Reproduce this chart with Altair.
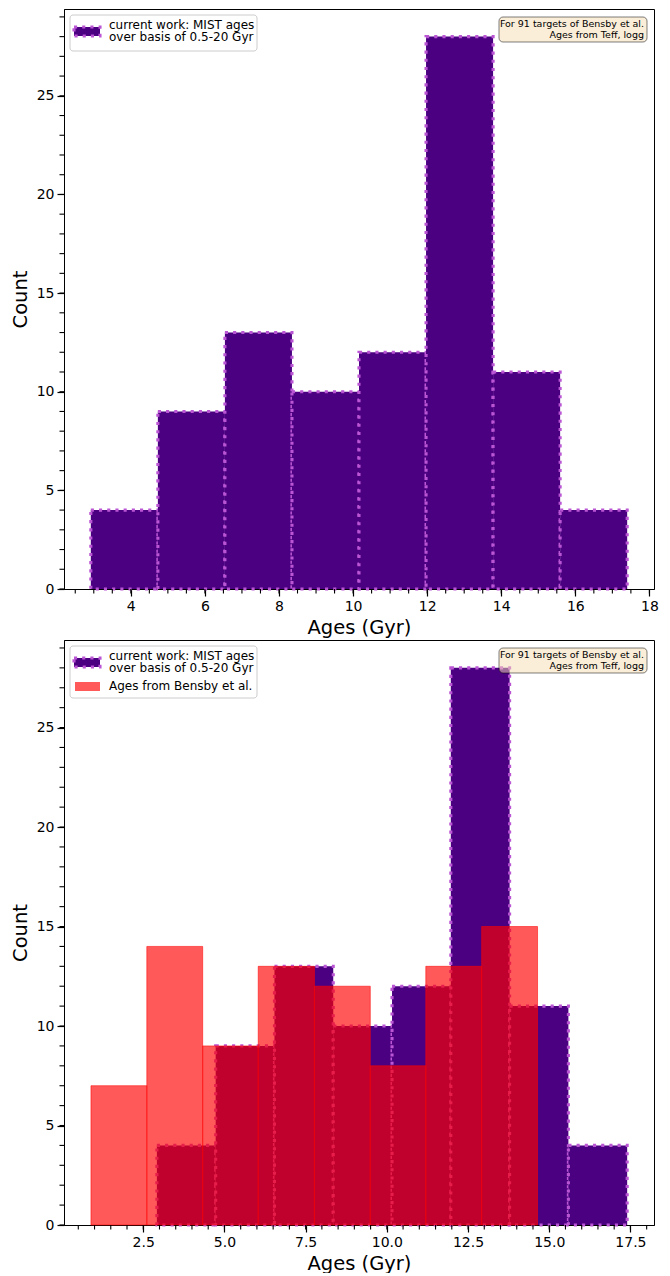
import altair as alt
import pandas as pd
import numpy as np

# ---------------- data ----------------
mist_edges = [2.92, 4.73, 6.54, 8.35, 10.16, 11.97, 13.78, 15.59, 17.40]
mist_counts = [4, 9, 13, 10, 12, 28, 11, 4]

bensby_edges = [0.89, 2.61, 4.33, 6.04, 7.77, 9.49, 11.20, 12.92, 14.64]
bensby_counts = [7, 14, 9, 13, 12, 8, 13, 15]

top_xticks = [4, 6, 8, 10, 12, 14, 16, 18]
bottom_xticks = [2.5, 5.0, 7.5, 10.0, 12.5, 15.0, 17.5]
yticks = [0, 5, 10, 15, 20, 25]

top_xdomain = [2.196, 18.124]
bottom_xdomain = [0.06, 18.226]
ydomain = [0, 29.4]

legend_mist = ["current work: MIST ages", "over basis of 0.5-20 Gyr"]
legend_bensby = ["Ages from Bensby et al."]
note_lines = ["For 91 targets of Bensby et al.", "Ages from Teff, logg"]

x_title = "Ages (Gyr)"
y_title = "Count"

# ---------------- styling ----------------
INDIGO = "#4B0082"
ORCHID = "#BA55D3"
FONT = "DejaVu Sans"
W = 590
H_TOP = 580
H_BOT = 585


def hist_df(edges, counts):
    return pd.DataFrame({
        "lo": edges[:-1],
        "hi": edges[1:],
        "count": counts,
        "base": [0] * len(counts),
    })


mist_df = hist_df(mist_edges, mist_counts)
bensby_df = hist_df(bensby_edges, bensby_counts)
one = pd.DataFrame({"k": [0]})


def text_line(txt, x, y, size, align="left"):
    return alt.Chart(one).mark_text(
        text=txt, font=FONT, fontSize=size, align=align, baseline="middle", color="black"
    ).encode(x=alt.value(x), y=alt.value(y))


def box(x1, x2, y1, y2, **kw):
    return alt.Chart(one).mark_rect(**kw).encode(
        x=alt.value(x1), x2=alt.value(x2), y=alt.value(y1), y2=alt.value(y2)
    )


def panel(xdomain, xticks, xfmt, h, show_bensby):
    xs = alt.Scale(domain=xdomain, nice=False, zero=False)
    ys = alt.Scale(domain=ydomain, nice=False, zero=False)
    xaxis = alt.Axis(values=xticks, format=xfmt, title=x_title, grid=False,
                     labelFlush=False, labelOverlap=False)
    yaxis = alt.Axis(values=yticks, format="d", title=y_title, grid=False,
                     labelOverlap=False)

    layers = []
    mist = alt.Chart(mist_df).mark_rect(
        fill=INDIGO, stroke=ORCHID, strokeWidth=3.1, strokeDash=[3.1, 5.1], strokeCap="butt"
    ).encode(
        x=alt.X("lo:Q", scale=xs, axis=xaxis),
        x2="hi:Q",
        y=alt.Y("count:Q", scale=ys, axis=yaxis),
        y2="base:Q",
    )
    layers.append(mist)

    if show_bensby:
        red = alt.Chart(bensby_df).mark_rect(
            fill="red", fillOpacity=0.65, stroke="red", strokeOpacity=0.6, strokeWidth=0.9
        ).encode(
            x=alt.X("lo:Q", scale=xs, axis=xaxis),
            x2="hi:Q",
            y=alt.Y("count:Q", scale=ys, axis=yaxis),
            y2="base:Q",
        )
        layers.append(red)

    # minor ticks
    minor_x = pd.DataFrame({"v": [v for v in np.arange(0, 19, 0.5)
                                  if xdomain[0] <= v <= xdomain[1]]})
    minor_y = pd.DataFrame({"v": list(range(0, 30))})
    layers.append(alt.Chart(minor_x).mark_rule(color="black", strokeWidth=1.1).encode(
        x=alt.X("v:Q", scale=xs, axis=xaxis), y=alt.value(h), y2=alt.value(h + 4.5)))
    layers.append(alt.Chart(minor_y).mark_rule(color="black", strokeWidth=1.1).encode(
        y=alt.Y("v:Q", scale=ys, axis=yaxis), x=alt.value(-4.5), x2=alt.value(0)))

    # legend (drawn inside the axes, upper left)
    legend_bottom = 58 if show_bensby else 42
    layers.append(box(6, 193, 6, legend_bottom, fill="white", fillOpacity=0.8,
                      stroke="#cccccc", strokeWidth=1, cornerRadius=3))
    layers.append(box(10, 36, 18, 27, fill=INDIGO, stroke=ORCHID, strokeWidth=3.1,
                      strokeDash=[3.1, 5.1], strokeCap="butt"))
    layers.append(text_line(legend_mist[0], 45, 16, 12))
    layers.append(text_line(legend_mist[1], 45, 28, 12))
    if show_bensby:
        layers.append(box(11, 36, 42, 51, fill="red", fillOpacity=0.65))
        layers.append(text_line(legend_bensby[0], 45, 46, 12))

    # annotation box (upper right)
    layers.append(box(435, 583, 8, 33, fill="#F5DEB3", fillOpacity=0.5,
                      stroke="black", strokeOpacity=0.5, strokeWidth=1, cornerRadius=4))
    layers.append(text_line(note_lines[0], 580, 15, 9.5, align="right"))
    layers.append(text_line(note_lines[1], 580, 26, 9.5, align="right"))

    return alt.layer(*layers).properties(width=W, height=h)


top = panel(top_xdomain, top_xticks, "d", H_TOP, False)
bottom = panel(bottom_xdomain, bottom_xticks, ".1f", H_BOT, True)

chart = alt.vconcat(top, bottom, spacing=2).properties(
    padding={"left": 1, "top": 0, "right": 0, "bottom": 0}
).configure_view(
    stroke="black", strokeWidth=1
).configure_axis(
    labelFont=FONT, titleFont=FONT, labelFontSize=14, titleFontSize=19.5,
    titleFontWeight="normal", labelColor="black", titleColor="black",
    tickColor="black", domainColor="black", tickSize=7, tickWidth=1.2,
    domainWidth=1, labelPadding=3, titlePadding=5
).configure_axisY(
    titlePadding=6
)

chart.save("out.html", embed_options={"renderer": "svg", "actions": False})
